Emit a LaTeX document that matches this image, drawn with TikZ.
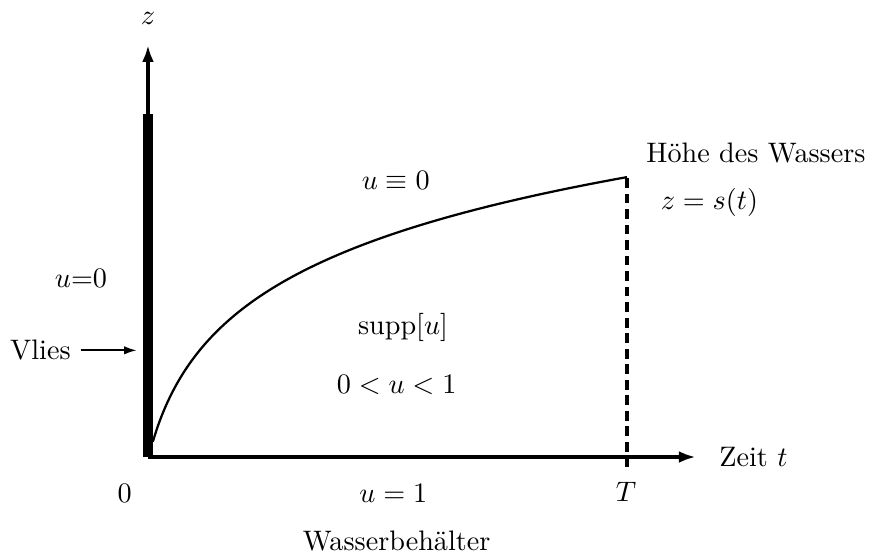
\documentclass[tikz,border=0pt]{standalone}
\usepackage{amsmath}
\usepackage{amssymb}
\usetikzlibrary{arrows.meta}

\begin{document}
\begin{tikzpicture}[
    axis/.style={line width=1.2pt, -{Latex[length=6pt,width=4.2pt]}},
    pointer/.style={line width=0.7pt, -{Latex[length=4.5pt,width=3pt]}}
  ]
            \useasboundingbox (-1.845,-1.209) rectangle (9.077,5.698);
            \coordinate (o) at (0,0);
            \coordinate (ztip) at (0,5.137);
            \coordinate (ttip) at (6.83,0);
            \coordinate (tT) at (5.973,0);
            \coordinate (top) at (5.973,3.49);
            \coordinate (vend) at (-0.14,1.33);
            \fill (-0.066,0) rectangle (0.066,4.277);
            \draw[axis] (o) -- (ztip);
            \draw[axis] (o) -- (ttip);
            \draw[line width=1.2pt, dash pattern=on 3.5pt off 2pt] ([yshift=-0.125cm]tT) -- (top);
            % Wasserstand s(t)
            \draw[line width=0.8pt] plot[domain=0.06:5.973, samples=100, smooth] (\x, {1.126*ln(1+3*(\x-0.06))+0.19});
            \node (z) at (0,5.47) {$z$};
            \node[anchor=west] (zeit) at (7.0,0) {Zeit $t$};
            \node (T) at (5.96,-0.43) {$T$};
            \node (null) at (-0.29,-0.45) {$0$};
            \node (ueins) at (3.06,-0.45) {$u=1$};
            \node (behaelter) at (3.1,-1.05) {Wasserbeh\"alter};
            \node (hoehe) at (7.58,3.79) {H\"ohe des Wassers};
            \node (s) at (7.0,3.17) {$z=s(t)$};
            \node (unull) at (3.09,3.45) {$u\equiv0$};
            \node (ulinks) at (-0.835,2.23) {$u$=0};
            \node (supp) at (3.18,1.62) {supp$[u]$};
            \node (ubereich) at (3.10,0.90) {$0<u<1$};
            \node[anchor=east] (vlies) at (-0.84,1.33) {Vlies};
            \draw[pointer] (vlies) -- (vend);
        \end{tikzpicture}
\end{document}
